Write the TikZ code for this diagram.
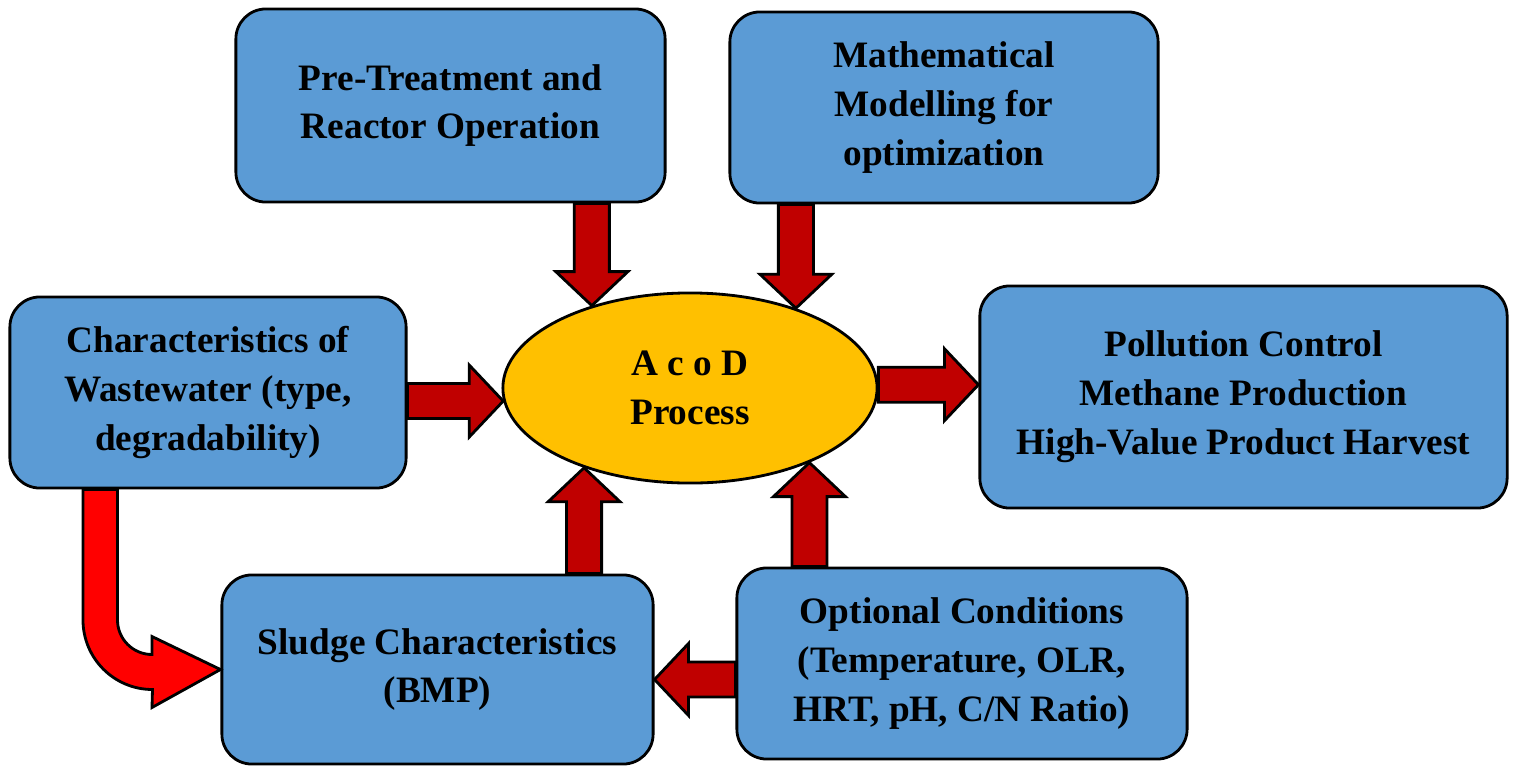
\documentclass[tikz,border=0pt]{standalone}
\usepackage{fontspec}
\setmainfont{Liberation Serif}
\usetikzlibrary{shapes.geometric,calc}
\definecolor{boxblue}{RGB}{91,155,213}
\definecolor{acodgold}{RGB}{255,192,0}
\definecolor{arrowred}{RGB}{192,0,0}
\definecolor{bendred}{RGB}{255,0,0}

\begin{document}
\begin{tikzpicture}[x=0.01cm, y=-0.01cm,
    stagebox/.style={draw, thick, fill=boxblue, rounded corners=0.3cm, align=center, inner sep=0pt,
        font={\bfseries\fontsize{10.6}{13.9}\selectfont}},
    process/.style={ellipse, draw, thick, fill=acodgold, align=center, inner sep=0pt,
        minimum width=3.74cm, minimum height=1.9cm, font={\bfseries\fontsize{10.6}{13.9}\selectfont}},
    blockarrow/.style={draw, thick, fill=arrowred, line join=miter},
    bentarrow/.style={draw, thick, fill=bendred, line join=miter}]
		\useasboundingbox (0,0) rectangle (1517,766);
		
		%stages
		\node[stagebox, minimum width=4.29cm, minimum height=1.93cm] (pre) at (450.5,105.5) {Pre-Treatment and\\Reactor Operation};
		\node[stagebox, minimum width=4.28cm, minimum height=1.91cm] (model) at (944,107.5) {Mathematical\\Modelling for\\optimization};
		\node[stagebox, minimum width=3.96cm, minimum height=1.91cm] (waste) at (208,392.5) {Characteristics of\\Wastewater (type,\\degradability)};
		\node[stagebox, minimum width=5.27cm, minimum height=2.22cm] (out) at (1243.5,397) {Pollution Control\\Methane Production\\High-Value Product Harvest};
		\node[stagebox, minimum width=4.31cm, minimum height=1.89cm] (sludge) at (437.5,669.5) {Sludge Characteristics\\(BMP)};
		\node[stagebox, minimum width=4.50cm, minimum height=1.91cm] (cond) at (962,663.5) {Optional Conditions\\(Temperature, OLR,\\HRT, pH, C/N Ratio)};
		\node[process] (acod) at (690,388) {A c o D\\Process};
		
		%arrow ends
		\coordinate (t1) at (acod.140.7);
		\coordinate (s1) at (pre.south -| t1);
		\coordinate (t2) at (acod.37);
		\coordinate (s2) at (model.south -| t2);
		\coordinate (t3) at (acod.184);
		\coordinate (s3) at (waste.east |- t3);
		\coordinate (s4) at (acod.1.5);
		\coordinate (t4) at (out.west |- s4);
		\coordinate (t5) at (acod.217.8);
		\coordinate (s5) at (sludge.north -| t5);
		\coordinate (t6) at (acod.-32.1);
		\coordinate (s6) at (cond.north -| t6);
		\coordinate (s7) at ($(cond.west)+(0,16)$);
		\coordinate (t7) at (sludge.east |- s7);
		
		\foreach \s/\t in {s1/t1, s2/t2, s3/t3, s4/t4, s5/t5, s6/t6, s7/t7}{
			\coordinate (hb) at ($(\t)!0.34cm!(\s)$);
			\draw[blockarrow] ($(\s)!0.175cm!90:(\t)$) -- ($(hb)!0.175cm!90:(\t)$)
				-- ($(hb)!0.36cm!90:(\t)$) -- (\t) -- ($(hb)!0.36cm!-90:(\t)$)
				-- ($(hb)!0.175cm!-90:(\t)$) -- ($(\s)!0.175cm!-90:(\t)$) -- cycle;
		}
		
		%bent arrow
		\draw[bentarrow] (83,0 |- waste.south) -- (83,620) arc (180:90:69.5) -- (152,707.5)
			-- (sludge.west) -- (152,636.5) -- (152,654.5) arc (90:180:34.5)
			-- (117.5,0 |- waste.south) -- cycle;
		\end{tikzpicture}
\end{document}
